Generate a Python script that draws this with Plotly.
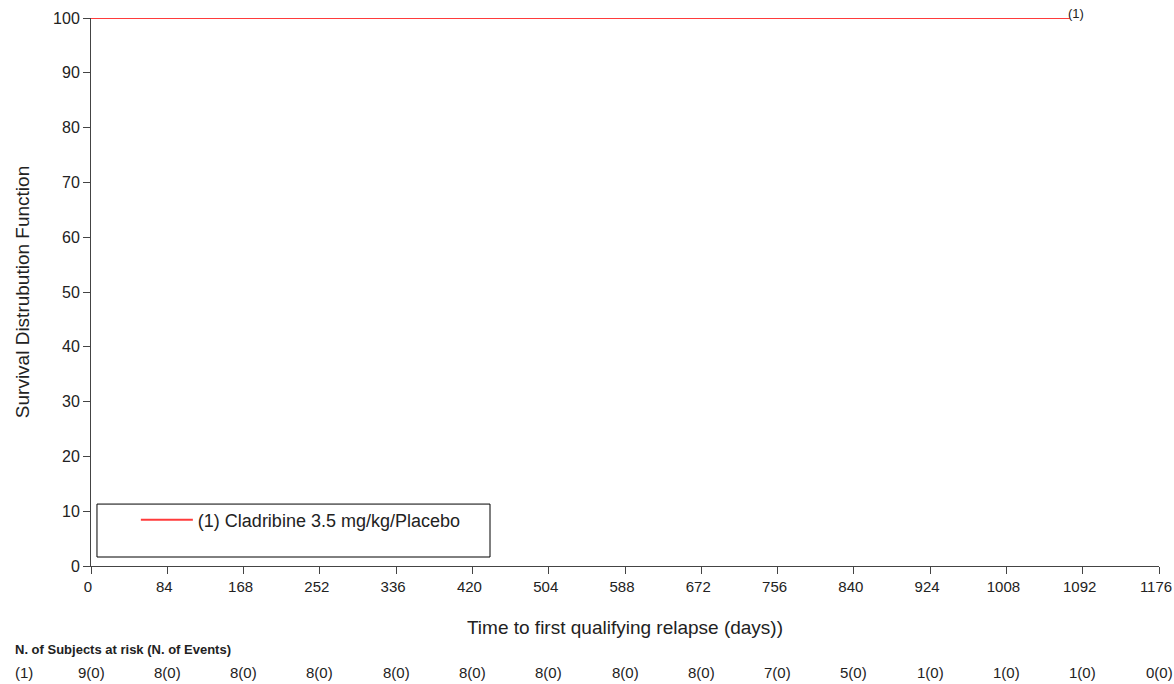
import plotly.graph_objects as go

# Data
km_time = [0, 1078]
km_surv = [100, 100]
series_name = "(1) Cladribine 3.5 mg/kg/Placebo"
x_ticks = [0, 84, 168, 252, 336, 420, 504, 588, 672, 756, 840, 924, 1008, 1092, 1176]
y_ticks = [0, 10, 20, 30, 40, 50, 60, 70, 80, 90, 100]
risk_labels = ["9(0)", "8(0)", "8(0)", "8(0)", "8(0)", "8(0)", "8(0)", "8(0)", "8(0)",
               "7(0)", "5(0)", "1(0)", "1(0)", "1(0)", "0(0)"]

FONT = "Liberation Sans, Arial, sans-serif"
RED = "#ff3b3b"
TXT = "#222"

fig = go.Figure()
fig.add_trace(go.Scatter(x=km_time, y=km_surv, mode="lines", name=series_name,
                         line=dict(color=RED, width=2), line_shape="hv"))

annotations = []
annotations.append(dict(x=km_time[-1], y=km_surv[-1], xref="x", yref="y", text="(1)",
                        showarrow=False, xanchor="left", yanchor="bottom", yshift=-5, xshift=-4,
                        font=dict(size=13, color=TXT, family=FONT)))
annotations.append(dict(x=-0.073, y=-0.1515, xref="paper", yref="paper",
                        text="<b>N. of Subjects at risk (N. of Events)</b>", showarrow=False,
                        xanchor="left", yanchor="middle", font=dict(size=13, color=TXT, family=FONT)))
annotations.append(dict(x=-0.073, y=-0.194, xref="paper", yref="paper", text="(1)",
                        showarrow=False, xanchor="left", yanchor="middle",
                        font=dict(size=15, color=TXT, family=FONT)))
for t, lab in zip(x_ticks, risk_labels):
    annotations.append(dict(x=t, y=-0.194, xref="x", yref="paper", text=lab, showarrow=False,
                            xanchor="center", yanchor="middle",
                            font=dict(size=15, color=TXT, family=FONT)))

fig.update_layout(
    width=1174, height=684,
    margin=dict(l=91, r=15, t=18, b=118),
    paper_bgcolor="white", plot_bgcolor="white",
    font=dict(family=FONT, color=TXT),
    showlegend=True,
    legend=dict(x=0.042, y=0.084, xanchor="left", yanchor="middle",
                bgcolor="rgba(0,0,0,0)", font=dict(size=18, color=TXT, family=FONT),
                itemwidth=52),
    annotations=annotations,
    shapes=[dict(type="rect", xref="paper", yref="paper", x0=0.0056, x1=0.3736,
                 y0=0.0164, y1=0.113, line=dict(color="black", width=1), fillcolor="rgba(0,0,0,0)")],
)
fig.update_xaxes(range=[0, 1176], tickvals=x_ticks, ticktext=[str(v) for v in x_ticks],
                 ticklabeloverflow="allow", automargin=False, ticklabelshift=-3,
                 showgrid=False, zeroline=False, showline=True, linecolor="#444", linewidth=1,
                 ticks="outside", ticklen=7, tickcolor="#444", tickfont=dict(size=15, color=TXT),
                 title=dict(text="Time to first qualifying relapse (days))", font=dict(size=19, color=TXT),
                            standoff=26))
fig.update_yaxes(range=[0, 100], tickvals=y_ticks, showgrid=False, zeroline=False, showline=True,
                 automargin=False,
                 linecolor="#444", linewidth=1, ticks="outside", ticklen=7, tickcolor="#444",
                 tickfont=dict(size=16, color=TXT),
                 title=dict(text="Survival Distrubution Function", font=dict(size=19, color=TXT),
                            standoff=18))

fig.write_html("out.html")
